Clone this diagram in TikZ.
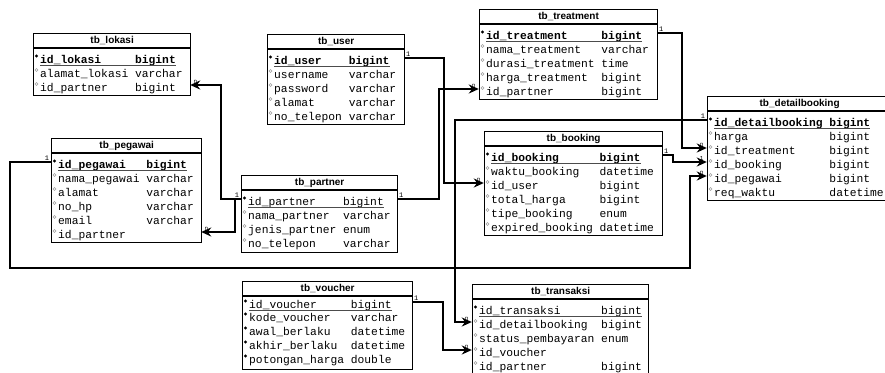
\documentclass[tikz,border=0pt]{standalone}
\usepackage{fontspec}
\setmainfont{Liberation Sans}
\newfontfamily\monof{Liberation Mono}
\usetikzlibrary{arrows.meta}
\newlength\chw
\setlength\chw{6.78pt}
% table frame: #1 name, #2 left, #3 right, #4 top, #5 height, #6 title
\newcommand\etable[6]{%
  \node[tbl, minimum width={#3-#2}, minimum height={#5}, anchor=north west] (#1) at (#2,#4) {};
  \draw[tblline] ([yshift=-15pt]#1.north west) -- ([yshift=-15pt]#1.north east);
  \node[ttl] (#1-title) at ([yshift=-7.5pt]#1.north) {#6};
}
% row: #1 name, #2 left, #3 right, #4 y, #5 kind, #6 column chars, #7 field, #8 type
\newcommand\erow[8]{%
  \node[rowanchor, minimum width={#3-#2}] (#1) at ({(#2+#3)/2},{#4-3}) {};
  \node[rowtext] (#1t) at ({#2+7},#4) {\ifcase#5\or\bfseries\fi\makebox[#6\chw][l]{#7}#8};
  \ifcase#5
    \draw[hollow] ({#2+3.5},{#4-4}) circle (1.5pt);
  \or
    \fill ({#2+3.5},{#4-4}) circle (1.6pt);
    \draw[uline] ([yshift=-1.8pt]#1t.base west) -- ([yshift=-1.8pt]#1t.base east);
  \or
    \fill ({#2+3.5},{#4-4}) circle (1.6pt);
  \or
    \fill ({#2+3.5},{#4-4}) circle (1.6pt);
    \draw[uline] ([yshift=-1.8pt]#1t.base west) -- ([yshift=-1.8pt]#1t.base east);
  \fi
}
\begin{document}
\begin{tikzpicture}[x=1pt,y=-1pt,
  tbl/.style={draw, line width=1.3pt, inner sep=0pt, fill=white},
  tblline/.style={line width=1.1pt},
  ttl/.style={font=\bfseries\fontsize{10}{12}\selectfont, inner sep=0pt},
  rowtext/.style={font=\monof\fontsize{11.3}{13}\selectfont, inner sep=0pt, text height=7pt, text depth=0pt, anchor=west},
  rowanchor/.style={inner sep=0pt, minimum height=0pt, draw=none},
  hollow/.style={draw=gray!75, line width=0.6pt},
  uline/.style={line width=0.8pt, gray!60!black},
  fk/.style={line width=1.7pt, -{Stealth[length=10pt,width=9pt]}},
  one/.style={font=\monof\fontsize{7}{8}\selectfont, inner sep=1pt},
  nlab/.style={font=\monof\fontsize{6}{7}\selectfont, inner sep=0.5pt}]
\useasboundingbox (0,0) rectangle (885,372);
\fill[white] (0,0) rectangle (885,372);

% tb_lokasi
\etable{lok}{33}{190}{33}{62}{tb\_lokasi}
\erow{lok1}{33}{190}{60}{1}{14}{id\_lokasi}{bigint}
\erow{lok2}{33}{190}{74}{0}{14}{alamat\_lokasi}{varchar}
\erow{lok3}{33}{190}{88}{0}{14}{id\_partner}{bigint}

% tb_user
\etable{usr}{267}{404}{34}{90}{tb\_user}
\erow{usr1}{267}{404}{61}{1}{11}{id\_user}{bigint}
\erow{usr2}{267}{404}{75}{0}{11}{username}{varchar}
\erow{usr3}{267}{404}{89}{0}{11}{password}{varchar}
\erow{usr4}{267}{404}{103}{0}{11}{alamat}{varchar}
\erow{usr5}{267}{404}{117}{0}{11}{no\_telepon}{varchar}

% tb_pegawai
\etable{peg}{51}{201}{138}{104}{tb\_pegawai}
\erow{peg1}{51}{201}{165}{1}{13}{id\_pegawai}{bigint}
\erow{peg2}{51}{201}{179}{0}{13}{nama\_pegawai}{varchar}
\erow{peg3}{51}{201}{193}{0}{13}{alamat}{varchar}
\erow{peg4}{51}{201}{207}{0}{13}{no\_hp}{varchar}
\erow{peg5}{51}{201}{221}{0}{13}{email}{varchar}
\erow{peg6}{51}{201}{235}{0}{13}{id\_partner}{}

% tb_partner
\etable{par}{241}{397}{175}{77}{tb\_partner}
\erow{par1}{241}{397}{202}{3}{14}{id\_partner}{bigint}
\erow{par2}{241}{397}{216}{0}{14}{nama\_partner}{varchar}
\erow{par3}{241}{397}{230}{0}{14}{jenis\_partner}{enum}
\erow{par4}{241}{397}{244}{0}{14}{no\_telepon}{varchar}

% tb_treatment
\etable{trt}{479}{657}{9}{90}{tb\_treatment}
\erow{trt1}{479}{657}{36}{1}{17}{id\_treatment}{bigint}
\erow{trt2}{479}{657}{50}{0}{17}{nama\_treatment}{varchar}
\erow{trt3}{479}{657}{64}{0}{17}{durasi\_treatment}{time}
\erow{trt4}{479}{657}{78}{0}{17}{harga\_treatment}{bigint}
\erow{trt5}{479}{657}{92}{0}{17}{id\_partner}{bigint}

% tb_booking
\etable{bkg}{484}{662}{131}{104}{tb\_booking}
\erow{bkg1}{484}{662}{158}{1}{16}{id\_booking}{bigint}
\erow{bkg2}{484}{662}{172}{0}{16}{waktu\_booking}{datetime}
\erow{bkg3}{484}{662}{186}{0}{16}{id\_user}{bigint}
\erow{bkg4}{484}{662}{200}{0}{16}{total\_harga}{bigint}
\erow{bkg5}{484}{662}{214}{0}{16}{tipe\_booking}{enum}
\erow{bkg6}{484}{662}{228}{0}{16}{expired\_booking}{datetime}

% tb_detailbooking
\etable{dtl}{707}{891}{96}{104}{tb\_detailbooking}
\erow{dtl1}{707}{891}{123}{1}{17}{id\_detailbooking}{bigint}
\erow{dtl2}{707}{891}{137}{0}{17}{harga}{bigint}
\erow{dtl3}{707}{891}{151}{0}{17}{id\_treatment}{bigint}
\erow{dtl4}{707}{891}{165}{0}{17}{id\_booking}{bigint}
\erow{dtl5}{707}{891}{179}{0}{17}{id\_pegawai}{bigint}
\erow{dtl6}{707}{891}{193}{0}{17}{req\_waktu}{datetime}

% tb_voucher
\etable{vch}{242}{412}{281}{88}{tb\_voucher}
\erow{vch1}{242}{412}{305}{3}{15}{id\_voucher}{bigint}
\erow{vch2}{242}{412}{318}{2}{15}{kode\_voucher}{varchar}
\erow{vch3}{242}{412}{332}{2}{15}{awal\_berlaku}{datetime}
\erow{vch4}{242}{412}{346}{2}{15}{akhir\_berlaku}{datetime}
\erow{vch5}{242}{412}{360}{2}{15}{potongan\_harga}{double}

% tb_transaksi
\etable{trx}{472}{648}{284}{90}{tb\_transaksi}
\erow{trx1}{472}{648}{311}{3}{18}{id\_transaksi}{bigint}
\erow{trx2}{472}{648}{325}{0}{18}{id\_detailbooking}{bigint}
\erow{trx3}{472}{648}{339}{0}{18}{status\_pembayaran}{enum}
\erow{trx4}{472}{648}{353}{0}{18}{id\_voucher}{}
\erow{trx5}{472}{648}{367}{0}{18}{id\_partner}{bigint}

% connectors
\draw[fk] (par1.west) node[one, anchor=south east] (c1a) {1} -- ++(-20,0) |- (lok3.east) node[nlab, anchor=south west, xshift=2pt] (c1b) {n};
\draw[fk] (par1.west) -- ++(-6,0) |- (peg6.east) node[nlab, anchor=south west, xshift=2pt] (c2b) {n};
\draw[fk] (usr1.east) node[one, anchor=south west] (c3a) {1} -- ++(40,0) |- (bkg3.west) node[nlab, anchor=south east, xshift=-2pt] (c3b) {n};
\draw[fk] (par1.east) node[one, anchor=south west] (c4a) {1} -- ++(42,0) |- (trt5.west) node[nlab, anchor=south east, xshift=-2pt] (c4b) {n};
\draw[fk] (trt1.east) node[one, anchor=south west] (c5a) {1} -- ++(25,0) |- (dtl3.west) node[nlab, anchor=south east, xshift=-2pt] (c5b) {n};
\draw[fk] (bkg1.east) node[one, anchor=south west] (c6a) {1} -- ++(11,0) |- (dtl4.west) node[nlab, anchor=south east, xshift=-2pt] (c6b) {1};
\coordinate (busR) at (690,268);
\draw[fk] (peg1.west) node[one, anchor=south east] (c7a) {1} -- ++(-41,0) |- (busR) |- (dtl5.west) node[nlab, anchor=south east, xshift=-2pt] (c7b) {n};
\draw[fk] (dtl1.west) node[one, anchor=south east] (c8a) {1} -- ++(-252,0) |- (trx2.west) node[nlab, anchor=south east, xshift=-2pt] (c8b) {n};
\draw[fk] (vch1.east) node[one, anchor=south west] (c9a) {1} -- ++(31,0) |- (trx4.west) node[nlab, anchor=south east, xshift=-2pt] (c9b) {n};
\end{tikzpicture}
\end{document}
